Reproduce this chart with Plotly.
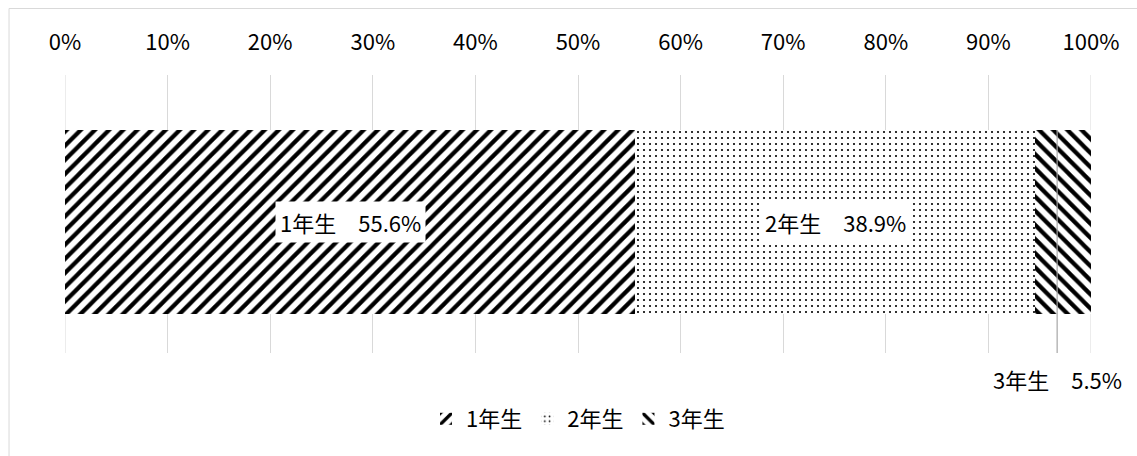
import plotly.graph_objects as go

categories = ["1年生", "2年生", "3年生"]
values = [55.6, 38.9, 5.5]
shapes_pat = ["/", ".", "\\"]
tick_vals = [0, 10, 20, 30, 40, 50, 60, 70, 80, 90, 100]
tick_text = [f"{v}%" for v in tick_vals]

FONT = "Noto Sans CJK JP"
FS = 22
W, H = 1137, 456
L, R, T, B = 64.5, 46, 75, 103
plot_w = W - L - R
plot_h = H - T - B
YR = [-0.712, 0.799]

def py(pix):
    return (T + plot_h - pix) / plot_h

fig = go.Figure()
for name, val, pat in zip(categories, values, shapes_pat):
    fig.add_trace(go.Bar(
        x=[val], y=[0], name=name, orientation="h", width=1,
        marker=dict(color="white", line=dict(width=0),
                    pattern=dict(shape=pat, fgcolor="black", bgcolor="white",
                                 size=6 if pat == "." else 10,
                                 solidity=0.1 if pat == "." else 0.42,
                                 fillmode="replace")),
        hoverinfo="skip",
    ))

annotations = []
shapes = []
cum = 0
for i, (name, val) in enumerate(zip(categories, values)):
    center = cum + val / 2
    label = f"{name}\u3000{val:.1f}%"
    if i < 2:
        annotations.append(dict(x=center, y=0, xref="x", yref="y", text=label,
                                showarrow=False, bgcolor="white", borderpad=4,
                                font=dict(family=FONT, size=FS, color="#000000")))
    else:
        lx = cum + val * 0.4
        annotations.append(dict(x=lx, y=py(379), xref="x", yref="paper", text=label,
                                showarrow=False, yanchor="middle",
                                font=dict(family=FONT, size=FS, color="#000000")))
        shapes.append(dict(type="line", xref="x", yref="y", x0=lx, x1=lx, y0=0.5, y1=YR[0],
                           line=dict(color="#a6a6a6", width=1.2), layer="above"))
    cum += val

# edge gridlines (0% and 100%)
for gx in (tick_vals[0], tick_vals[-1]):
    shapes.append(dict(type="line", xref="x", yref="paper", x0=gx, x1=gx, y0=0, y1=1,
                       line=dict(color="#d9d9d9", width=1), layer="below"))

shapes.append(dict(type="rect", xref="paper", yref="paper",
                   x0=(8.5 - L) / plot_w, x1=(W + 5 - L) / plot_w,
                   y0=py(H + 5), y1=py(8.5),
                   line=dict(color="#d9d9d9", width=1), fillcolor="rgba(0,0,0,0)",
                   layer="below"))

fig.update_layout(
    width=W, height=H,
    margin=dict(l=L, r=R, t=T, b=B, autoexpand=False),
    barmode="stack", bargap=0,
    paper_bgcolor="white", plot_bgcolor="white",
    font=dict(family=FONT, size=FS, color="#000000"),
    xaxis=dict(range=[0, 100], side="top", tickvals=tick_vals, ticktext=tick_text,
               showgrid=True, gridcolor="#d9d9d9", gridwidth=1, zeroline=False,
               showline=False, ticks="", ticklabelstandoff=20,
               tickfont=dict(family=FONT, size=FS, color="#000000"), fixedrange=True),
    yaxis=dict(range=YR, showticklabels=False, showgrid=False,
               zeroline=False, showline=False, fixedrange=True),
    legend=dict(orientation="h", x=0.5, xanchor="center", y=py(419),
                yanchor="middle", font=dict(family=FONT, size=FS),
                traceorder="normal", itemwidth=30),
    annotations=annotations,
    shapes=shapes,
    showlegend=True,
)

fig.write_html("out.html")
